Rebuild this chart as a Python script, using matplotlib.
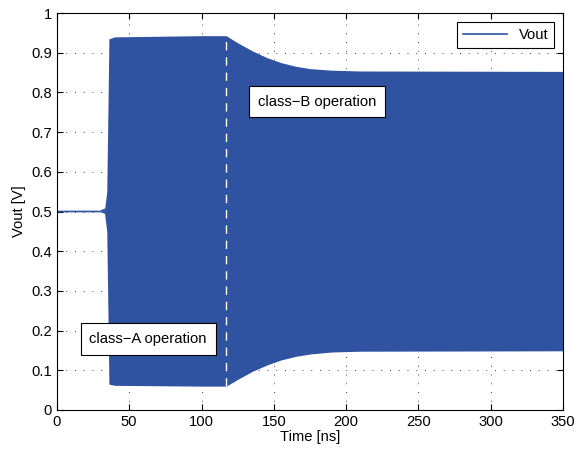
import numpy as np
import matplotlib.pyplot as plt

plt.rcParams['font.family'] = ['Liberation Sans', 'DejaVu Sans']

# envelope of Vout
t_env = [0, 30, 33, 34.5, 35.5, 36, 40, 100, 117, 125, 135, 145, 155, 165, 175, 190, 210, 350]
v_hi = [0.5, 0.5, 0.505, 0.55, 0.8, 0.935, 0.94, 0.943, 0.943, 0.925, 0.905, 0.888, 0.875,
        0.866, 0.86, 0.856, 0.854, 0.853]
v_lo = [0.5, 0.5, 0.495, 0.45, 0.2, 0.065, 0.062, 0.06, 0.06, 0.077, 0.097, 0.113, 0.126,
        0.135, 0.141, 0.146, 0.148, 0.149]
t_switch = 117

blue = '#2f52a1'
fs = 10.6

fig = plt.figure(figsize=(5.86, 4.5), dpi=100)
ax = fig.add_axes([0.097, 0.089, 0.864, 0.882])

ax.fill_between(t_env, v_lo, v_hi, color=blue, lw=0, zorder=2)
ax.plot(t_env[:3], v_hi[:3], color=blue, lw=1.2, zorder=2, label='Vout')
ax.plot([t_switch, t_switch], [0.06, 0.943], color='white', ls=(0, (6, 5)), lw=1, zorder=3)

box = dict(boxstyle='square,pad=0.6', fc='white', ec='black', lw=0.8)
ax.text(22.5, 0.179, 'class\u2212A operation', fontsize=fs, va='center', ha='left', bbox=box, zorder=4)
ax.text(139, 0.777, 'class\u2212B operation', fontsize=fs, va='center', ha='left', bbox=box, zorder=4)

ax.set_xlim(0, 350)
ax.set_ylim(0, 1)
ax.set_xticks(np.arange(0, 351, 50))
ax.set_yticks(np.arange(0, 1.01, 0.1))
ax.set_yticklabels(['0', '0.1', '0.2', '0.3', '0.4', '0.5', '0.6', '0.7', '0.8', '0.9', '1'])
ax.tick_params(direction='in', top=True, right=True, labelsize=fs, length=4)
ax.minorticks_off()
ax.grid(True, ls=(0, (1, 8)), color='#444444', lw=0.7, zorder=1)
ax.set_axisbelow(True)
ax.set_xlabel('Time [ns]', fontsize=fs, labelpad=1)
ax.set_ylabel('Vout [V]', fontsize=fs, labelpad=4)

leg = ax.legend(loc='upper right', fontsize=fs, fancybox=False, edgecolor='black',
                framealpha=1, handlelength=3, borderaxespad=0.6)
leg.get_frame().set_linewidth(0.8)

fig.savefig('out.png', dpi=100)
